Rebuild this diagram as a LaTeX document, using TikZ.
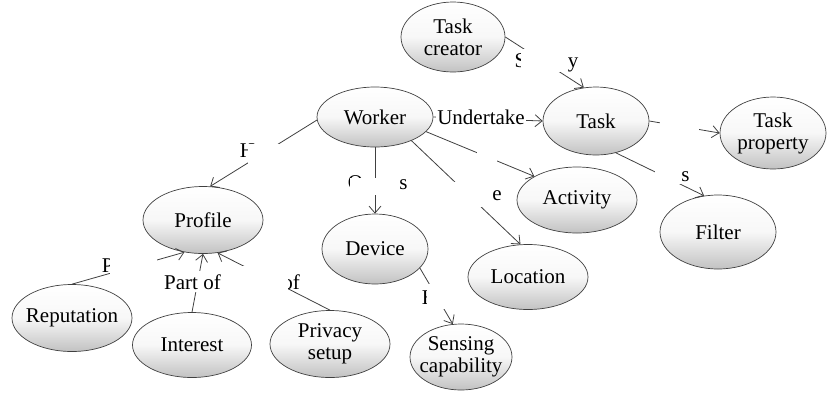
\documentclass[tikz,border=0pt]{standalone}
\usepackage{fontspec}
\setmainfont{Liberation Serif}
\usetikzlibrary{arrows.meta,shapes.geometric}
\begin{document}
\begin{tikzpicture}[x=1pt,y=-1pt,
  txt/.style={font=\fontsize{21}{22}\selectfont},
  concept/.style={ellipse, draw=black!75, line width=0.7pt, top color=white, bottom color=black!24, middle color=black!3, inner sep=-18pt, align=center, txt},
  link/.style={draw=black!75, line width=0.8pt},
  arr/.style={link, -{Straight Barb[length=7pt,width=12pt]}},
  frag/.style={inner sep=0pt, anchor=base, txt},
  lbl/.style={fill=white, inner xsep=1pt, inner ysep=3pt, anchor=base, txt},
  gap/.style={fill=white}]
\useasboundingbox (0,0) rectangle (827,392);

% concepts
\node[concept, minimum width=104pt, minimum height=70pt] (tc) at (453,37) {Task\\creator};
\node[concept, minimum width=116pt, minimum height=60pt] (worker) at (375,117) {Worker};
\node[concept, minimum width=106pt, minimum height=68pt] (task) at (596,121) {Task};
\node[concept, minimum width=106pt, minimum height=72pt] (tp) at (773,133) {Task\\property};
\node[concept, minimum width=120pt, minimum height=66pt] (activity) at (577,200) {Activity};
\node[concept, minimum width=120pt, minimum height=67pt] (profile) at (203,220) {Profile};
\node[concept, minimum width=106pt, minimum height=70pt] (device) at (375,249) {Device};
\node[concept, minimum width=120pt, minimum height=65pt] (location) at (528,277) {Location};
\node[concept, minimum width=116pt, minimum height=74pt] (filter) at (718,232) {Filter};
\node[concept, minimum width=120pt, minimum height=67pt] (reputation) at (72,318) {Reputation};
\node[concept, minimum width=119pt, minimum height=65pt] (interest) at (192,345) {Interest};
\node[concept, minimum width=120pt, minimum height=67pt] (privacy) at (330,344) {Privacy\\setup};
\node[concept, minimum width=102pt, minimum height=66pt] (sensing) at (461,357) {Sensing\\capability};

% connectors
\draw[arr] (tc.east) -- (task.110);
\draw[arr] (worker.east) -- (task.west);
\draw[arr] (worker.183) -- (profile.78);
\draw[arr] (worker.south) -- (device.north);
\draw[arr] (worker.-16) -- (activity.151);
\draw[arr] (worker.-33) -- (location.103);
\draw[arr] (task.east) -- (tp.west);
\draw[arr] (task.-58) -- (filter.111);
\draw[arr] (reputation.north) -- (profile.240);
\draw[arr] (interest.north) -- (profile.south);
\draw[arr] (privacy.north) -- (profile.294);
\draw[arr] (device.-23) -- (sensing.104);

% label fragments
\node[frag] (fS) at (520.5,67.5) {S};
\node[frag] (fy) at (573,67) {y};
\node[frag] (fH) at (247.4,157) {H};
\node[frag] (fO) at (355.5,189) {O};
\node[frag] (fs1) at (403.5,189) {s};
\node[frag] (fe) at (497,200) {e};
\node[frag] (fs2) at (685.5,181) {s};
\node[frag] (fP) at (107.7,272) {P};
\node[frag, anchor=base east] (fof) at (300,289) {of};
\node[frag] (fH2) at (429.4,304) {H};

% white boxes that hide parts of the links and labels
\fill[gap] (521,49) rectangle (566,72);
\fill[gap] (248,144) rectangle (283,168);
\fill[gap] (350,178) rectangle (397,195);
\fill[gap] (477,144) rectangle (497,165);
\fill[gap] (432,182) rectangle (488,207);
\fill[gap] (660,112) rectangle (699,140);
\fill[gap] (655,164) rectangle (681,184);
\fill[gap] (110,252) rectangle (157,277);
\fill[gap] (240,266) rectangle (288,296);
\fill[gap] (427,284) rectangle (458,309);

% full labels
\node[lbl] (lundertake) at (481,124) {Undertake};
\node[lbl] (lpartof) at (192.5,289) {Part of};
\end{tikzpicture}
\end{document}
